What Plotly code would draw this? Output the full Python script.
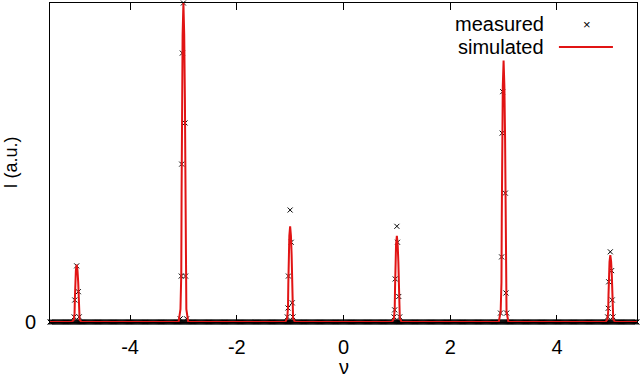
import numpy as np
import plotly.graph_objects as go

# ---- data ----
peak_centers = [-5.0, -3.0, -1.0, 1.0, 3.0, 5.0]
sim_offsets = [-0.09, -0.055, -0.04, -0.034, -0.028, -0.015, 0.0, 0.015, 0.028, 0.034, 0.04, 0.055, 0.09]
sim_peak_m5 = [0, 0.007, 0.027, 0.072, 0.126, 0.162, 0.18, 0.162, 0.126, 0.072, 0.027, 0.007, 0]
sim_peak_m3 = [0, 0.040, 0.150, 0.400, 0.700, 0.900, 1.00, 0.900, 0.700, 0.400, 0.150, 0.040, 0]
sim_peak_m1 = [0, 0.012, 0.045, 0.120, 0.210, 0.270, 0.30, 0.270, 0.210, 0.120, 0.045, 0.012, 0]
sim_peak_p1 = [0, 0.011, 0.041, 0.108, 0.189, 0.243, 0.27, 0.243, 0.189, 0.108, 0.041, 0.011, 0]
sim_peak_p3 = [0, 0.033, 0.123, 0.328, 0.574, 0.738, 0.82, 0.738, 0.574, 0.328, 0.123, 0.033, 0]
sim_peak_p5 = [0, 0.008, 0.032, 0.084, 0.147, 0.189, 0.21, 0.189, 0.147, 0.084, 0.032, 0.008, 0]
nu_min, nu_max = -5.5, 5.5

meas_peak_nu = [-5.047, -5.035, -5.0, -4.969, -4.953,
                -3.06, -3.04, -3.032, -3.02, -3.0, -2.97, -2.96, -2.94,
                -1.053, -1.04, -1.032, -1.0, -0.98, -0.961, -0.947,
                0.947, 0.959, 0.969, 1.0, 1.012, 1.036, 1.053,
                2.942, 2.963, 2.973, 2.983, 3.032, 3.044, 3.058,
                4.95, 4.961, 4.97, 5.0, 5.024, 5.035, 5.05]
meas_peak_I = [0.016, 0.069, 0.176, 0.095, 0.016,
               0.01, 0.144, 0.495, 0.843, 1.0, 0.624, 0.144, 0.01,
               0.016, 0.044, 0.144, 0.351, 0.25, 0.06, 0.016,
               0.016, 0.038, 0.135, 0.30, 0.25, 0.08, 0.016,
               0.028, 0.204, 0.592, 0.722, 0.404, 0.091, 0.028,
               0.016, 0.043, 0.126, 0.22, 0.161, 0.069, 0.016]
meas_step = 0.02   # sampling step of the measured baseline

x_tickvals = [-4, -2, 0, 2, 4]
x_ticktext = ["-4", "-2", "0", "2", "4"]
y_tickvals = [0]
y_ticktext = ["0"]

# ---- build traces ----
sim_peaks = [sim_peak_m5, sim_peak_m3, sim_peak_m1, sim_peak_p1, sim_peak_p3, sim_peak_p5]
sim_nu = [nu_min]
sim_I = [0.0]
for c, vals in zip(peak_centers, sim_peaks):
    sim_nu += [c + o for o in sim_offsets]
    sim_I += list(vals)
sim_nu.append(nu_max)
sim_I.append(0.0)

base_nu = np.round(np.arange(nu_min, nu_max + meas_step / 2, meas_step), 4)
base_I = np.zeros_like(base_nu)
meas_nu = np.concatenate([base_nu, meas_peak_nu])
meas_I = np.concatenate([base_I, meas_peak_I])

FONT = "Liberation Sans, Arial, sans-serif"
RED = "rgb(225,20,20)"

fig = go.Figure()
fig.add_trace(go.Scatter(x=meas_nu, y=meas_I, mode="markers", name="measured",
                         marker=dict(symbol="x-thin", size=5, color="black",
                                     line=dict(width=1, color="black")),
                         cliponaxis=False, showlegend=False))
fig.add_trace(go.Scatter(x=sim_nu, y=sim_I, mode="lines", name="simulated",
                         line=dict(color=RED, width=2),
                         cliponaxis=False, showlegend=False))

# legend drawn gnuplot-style (text left, sample right)
fig.add_annotation(text="measured", xref="paper", yref="paper", x=0.845, y=0.934,
                   xanchor="right", yanchor="middle", showarrow=False,
                   font=dict(family=FONT, size=20, color="black"))
fig.add_annotation(text="simulated", xref="paper", yref="paper", x=0.845, y=0.862,
                   xanchor="right", yanchor="middle", showarrow=False,
                   font=dict(family=FONT, size=20, color="black"))
fig.add_annotation(text="×", xref="paper", yref="paper", x=0.915, y=0.934,
                   xanchor="center", yanchor="middle", showarrow=False,
                   font=dict(family=FONT, size=13, color="black"))
fig.add_shape(type="line", xref="paper", yref="paper", x0=0.867, x1=0.959,
              y0=0.862, y1=0.862, line=dict(color=RED, width=2))

# axis titles (placed like gnuplot)
fig.add_annotation(text="ν", xref="paper", yref="paper", x=0.5, y=-0.142,
                   xanchor="center", yanchor="middle", showarrow=False,
                   font=dict(family=FONT, size=20, color="black"))
fig.add_annotation(text="I (a.u.)", xref="paper", yref="paper", x=-0.068, y=0.5,
                   xanchor="center", yanchor="middle", showarrow=False, textangle=-90,
                   font=dict(family=FONT, size=18, color="black"))

fig.update_layout(
    width=640, height=377,
    margin=dict(l=50, r=3, t=3, b=55),
    paper_bgcolor="white", plot_bgcolor="white",
    font=dict(family=FONT, size=20, color="black"),
)
fig.update_xaxes(range=[nu_min, nu_max], tickvals=x_tickvals, ticktext=x_ticktext,
                 ticks="inside", ticklen=7, tickcolor="black", mirror="ticks",
                 showline=True, linecolor="black", linewidth=1, layer="below traces",
                 showgrid=False, zeroline=False, ticklabelstandoff=7,
                 tickfont=dict(family=FONT, size=20))
fig.update_yaxes(range=[0, 1.0], tickvals=y_tickvals, ticktext=y_ticktext,
                 ticks="inside", ticklen=7, tickcolor="black", mirror="ticks",
                 showline=True, linecolor="black", linewidth=1, layer="below traces",
                 showgrid=False, zeroline=False, ticklabelstandoff=9,
                 tickfont=dict(family=FONT, size=20))

fig.write_html("out.html", config={"displayModeBar": False},
               post_script="document.body.style.margin='0';document.body.style.padding='0';")
